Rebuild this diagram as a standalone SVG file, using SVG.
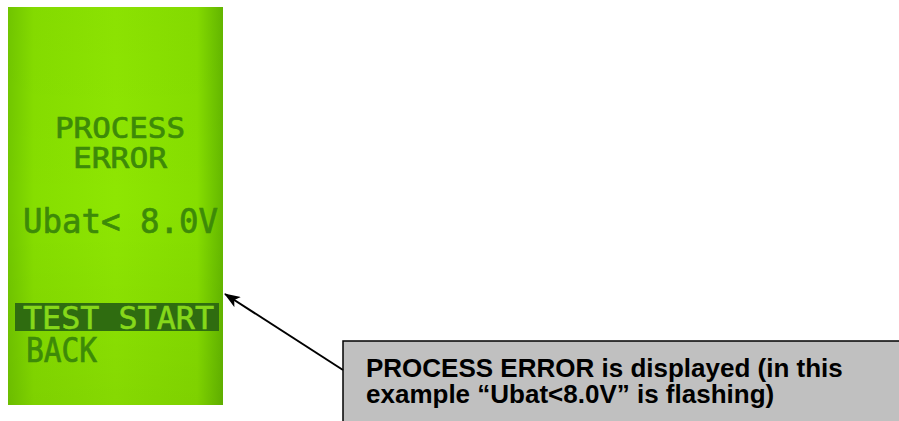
<svg xmlns="http://www.w3.org/2000/svg" width="899" height="421" viewBox="0 0 899 421">
  <style>
    .lcd { font-family: "DejaVu Sans Mono", "Liberation Mono", monospace; fill: #3d8a08; stroke: #3d8a08; stroke-width: 0.7; }
    .inv { font-family: "DejaVu Sans Mono", "Liberation Mono", monospace; fill: #86d81a; stroke: #86d81a; stroke-width: 0.6; }
    .note { font-family: "Liberation Sans", Arial, sans-serif; font-weight: bold; font-size: 26px; fill: #000; }
    .conn { stroke: #000; stroke-width: 2; fill: none; }
  </style>
  <defs>
    <linearGradient id="lcdH" x1="0" y1="0" x2="1" y2="0">
      <stop offset="0" stop-color="#72c800"/>
      <stop offset="0.12" stop-color="#86de00"/>
      <stop offset="0.5" stop-color="#8ee602"/>
      <stop offset="0.88" stop-color="#86de00"/>
      <stop offset="1" stop-color="#64b800"/>
    </linearGradient>
    <linearGradient id="lcdV" x1="0" y1="0" x2="0" y2="1">
      <stop offset="0" stop-color="#000" stop-opacity="0.02"/>
      <stop offset="0.5" stop-color="#000" stop-opacity="0"/>
      <stop offset="1" stop-color="#000" stop-opacity="0.06"/>
    </linearGradient>
    <marker id="arrow" viewBox="0 0 16 12" refX="15" refY="6" markerWidth="16" markerHeight="12" markerUnits="userSpaceOnUse" orient="auto">
      <path d="M0,0 L16,6 L0,12 L4,6 Z" fill="#000"/>
    </marker>
  </defs>

  <g id="lcd-screen">
    <rect x="8" y="7" width="215" height="398" fill="url(#lcdH)"/>
    <rect x="8" y="7" width="215" height="398" fill="url(#lcdV)"/>
    <text class="lcd" x="55" y="138" font-size="29" textLength="130" lengthAdjust="spacingAndGlyphs">PROCESS</text>
    <text class="lcd" x="73" y="168" font-size="29" textLength="94" lengthAdjust="spacingAndGlyphs">ERROR</text>
    <text class="lcd" x="23" y="233" font-size="34" textLength="195" lengthAdjust="spacingAndGlyphs">Ubat&lt; 8.0V</text>
    <rect x="15" y="303" width="204" height="28" fill="#2f6c10"/>
    <text class="inv" x="23" y="329" font-size="32" textLength="191" lengthAdjust="spacingAndGlyphs">TEST START</text>
    <text class="lcd" x="26" y="362" font-size="34" textLength="71" lengthAdjust="spacingAndGlyphs">BACK</text>
  </g>

  <g id="callout">
    <rect x="343" y="341" width="600" height="100" fill="#c0c0c0" stroke="#000" stroke-width="1.5"/>
    <text class="note" x="366" y="377">PROCESS ERROR is displayed (in this</text>
    <text class="note" x="366" y="403">example “Ubat&lt;8.0V” is flashing)</text>
  </g>

  <g id="connectors">
    <line class="conn" x1="343" y1="370" x2="225" y2="294" marker-end="url(#arrow)"/>
  </g>
</svg>
